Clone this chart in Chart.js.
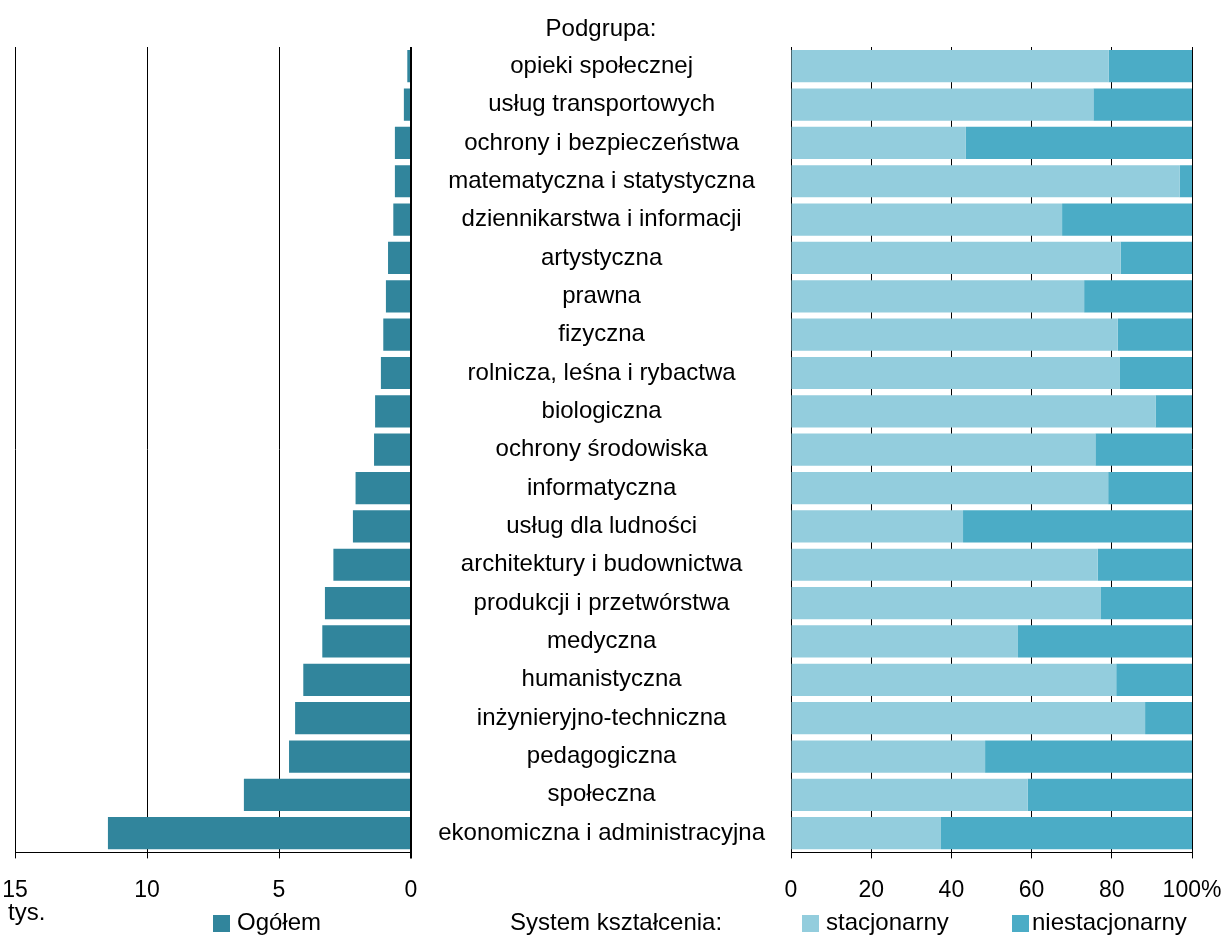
<!DOCTYPE html>
<html>
<head>
<meta charset="utf-8">
<style>
  body { margin: 0; background: #fff; font-family: 'Liberation Sans', Arial, sans-serif; color: #000; }
  #wrap { position: relative; width: 1228px; height: 936px; overflow: hidden; }
  canvas { position: absolute; top: 0; }
  .txt { position: absolute; font-size: 24px; line-height: 26px; white-space: nowrap; }
  .sw { display: inline-block; width: 17px; height: 17px; vertical-align: -2px; margin-right: 7px; }
  #lg-niestac .sw { margin-right: 3px; }
</style>
</head>
<body>
<div id="wrap">
  <canvas id="left-chart" width="430" height="936" style="left:0"></canvas>
  <canvas id="right-chart" width="798" height="936" style="left:430px"></canvas>
  <div class="txt" style="left:0;width:1202px;text-align:center;top:15px">Podgrupa:</div>
  <div class="txt" style="left:8px;top:899px">tys.</div>
  <div class="txt" id="lg-total" style="left:213px;top:909px"></div>
  <div class="txt" style="left:510px;top:909px">System kształcenia:</div>
  <div class="txt" id="lg-stac" style="left:802px;top:909px"></div>
  <div class="txt" id="lg-niestac" style="left:1012px;top:909px"></div>
</div>

<script src="https://cdn.jsdelivr.net/npm/chart.js"></script>

<script>
  const categories = [
    'opieki społecznej', 'usług transportowych', 'ochrony i bezpieczeństwa',
    'matematyczna i statystyczna', 'dziennikarstwa i informacji', 'artystyczna',
    'prawna', 'fizyczna', 'rolnicza, leśna i rybactwa', 'biologiczna',
    'ochrony środowiska', 'informatyczna', 'usług dla ludności',
    'architektury i budownictwa', 'produkcji i przetwórstwa', 'medyczna',
    'humanistyczna', 'inżynieryjno-techniczna', 'pedagogiczna', 'społeczna',
    'ekonomiczna i administracyjna'
  ]
  // tys. osób
  const ogolem = [0.14, 0.27, 0.61, 0.61, 0.67, 0.87, 0.95, 1.05, 1.14, 1.36, 1.40,
                  2.10, 2.20, 2.94, 3.26, 3.36, 4.08, 4.39, 4.62, 6.33, 11.48]
  // %
  const stacjonarny = [79.2, 75.4, 43.6, 96.9, 67.6, 82.2, 73.1, 81.5, 81.9, 90.9, 75.9,
                       79.1, 42.9, 76.5, 77.3, 56.6, 81.1, 88.3, 48.4, 59.0, 37.4]
  const niestacjonarny = [20.8, 24.6, 56.4, 3.1, 32.4, 17.8, 26.9, 18.5, 18.1, 9.1, 24.1,
                          20.9, 57.1, 23.5, 22.7, 43.4, 18.9, 11.7, 51.6, 41.0, 62.6]
  const leftTicks = [15, 10, 5, 0]
  const rightTicks = ['0', '20', '40', '60', '80', '100%']

  const colTotal = '#31859C'
  const colStac = '#93CDDD'
  const colNiestac = '#4BACC6'

  Chart.defaults.font.family = "'Liberation Sans', Arial, sans-serif"
  Chart.defaults.font.size = 23
  Chart.defaults.color = '#000'

  const legendItem = (id, color, label) => {
    document.getElementById(id).innerHTML = `<span class="sw" style="background:${color}"></span>${label}`
  }
  // tick labels may hang over the plot edges, like in the original
  const noSidePadding = (scale) => { scale.paddingLeft = 0; scale.paddingRight = 0 }

  let leftChart = new Chart(document.getElementById('left-chart').getContext('2d'), {
    type: 'bar',
    data: {
      labels: categories,
      datasets: [{
        label: 'Ogółem',
        data: ogolem,
        backgroundColor: colTotal,
        borderWidth: 0,
        categoryPercentage: 1,
        barPercentage: 0.84,
      }]
    },
    options: {
      responsive: false,
      animation: false,
      indexAxis: 'y',
      layout: { padding: { left: 15, right: 19, top: 47, bottom: 14 } },
      plugins: { legend: { display: false }, tooltip: { enabled: false } },
      scales: {
        x: {
          min: 0,
          max: 15,
          reverse: true,
          afterBuildTicks: (scale) => { scale.ticks = leftTicks.map(v => ({ value: v })) },
          afterFit: noSidePadding,
          ticks: { padding: 18, maxRotation: 0 },
          grid: {
            color: '#000',
            lineWidth: (c) => (c.tick && c.tick.value === 0 ? 2 : 1),
            tickLength: 6,
          },
          border: { color: '#000', width: 1 },
        },
        y: { display: false }
      }
    }
  })

  let rightChart = new Chart(document.getElementById('right-chart').getContext('2d'), {
    type: 'bar',
    data: {
      labels: categories,
      datasets: [{
        label: 'stacjonarny',
        data: stacjonarny,
        backgroundColor: colStac,
        borderWidth: 0,
        categoryPercentage: 1,
        barPercentage: 0.84,
      },
      {
        label: 'niestacjonarny',
        data: niestacjonarny,
        backgroundColor: colNiestac,
        borderWidth: 0,
        categoryPercentage: 1,
        barPercentage: 0.84,
      }]
    },
    options: {
      responsive: false,
      animation: false,
      indexAxis: 'y',
      layout: { padding: { left: 0, right: 36, top: 47, bottom: 14 } },
      plugins: { legend: { display: false }, tooltip: { enabled: false } },
      scales: {
        x: {
          stacked: true,
          min: 0,
          max: 100,
          afterFit: noSidePadding,
          ticks: {
            stepSize: 20,
            padding: 18,
            maxRotation: 0,
            callback: (v, i) => rightTicks[i],
          },
          grid: { color: '#000', lineWidth: 1, tickLength: 6 },
          border: { color: '#000', width: 1 },
        },
        y: {
          stacked: true,
          grid: { display: false },
          border: { display: true, color: '#000', width: 1 },
          ticks: { crossAlign: 'center', padding: 18, autoSkip: false, font: { size: 24 } },
          afterFit: (scale) => { scale.width = 361 },
        }
      }
    }
  })

  legendItem('lg-total', colTotal, 'Ogółem')
  legendItem('lg-stac', colStac, 'stacjonarny')
  legendItem('lg-niestac', colNiestac, 'niestacjonarny')
</script>
</body>
</html>
